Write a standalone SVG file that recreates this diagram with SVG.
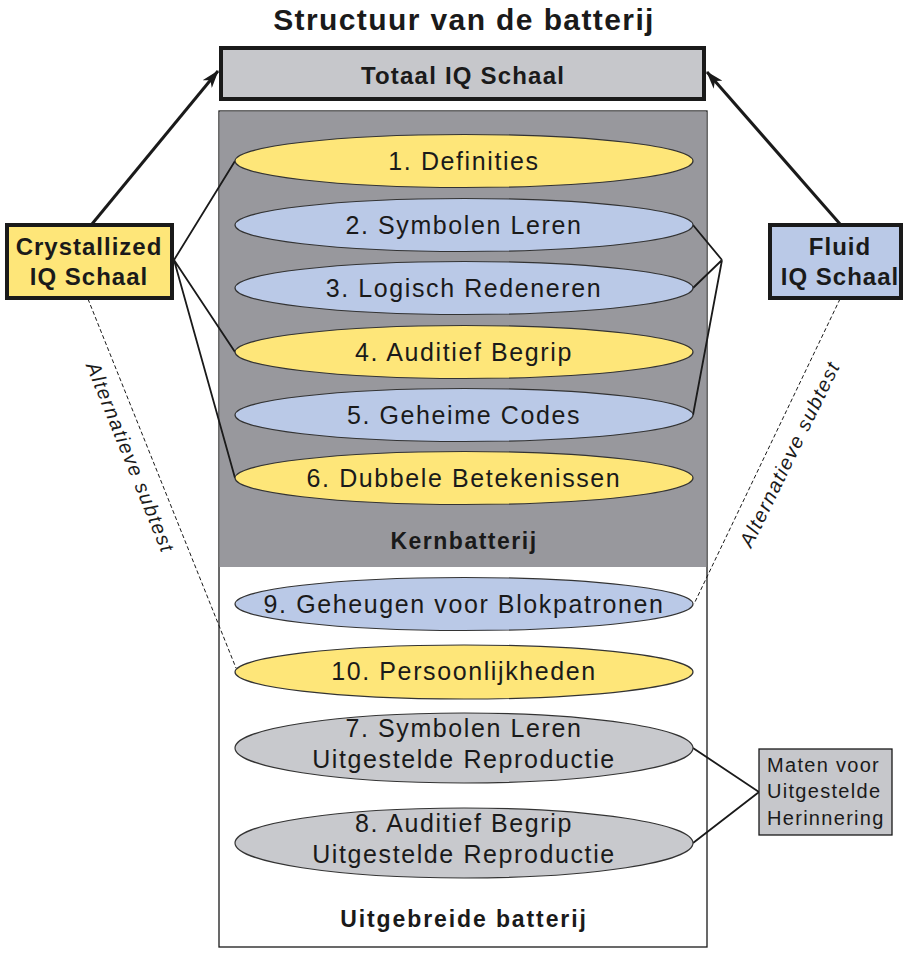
<svg xmlns="http://www.w3.org/2000/svg" width="903" height="953" viewBox="0 0 903 953">
<style>
text{font-family:"Liberation Sans",Arial,sans-serif;fill:#1a1a1a}
.t{font-size:25px;letter-spacing:1.6px;text-anchor:middle}
.b{font-weight:bold}
.y{fill:#fee679;stroke:#333;stroke-width:1.2}
.u{fill:#bac9e7;stroke:#333;stroke-width:1.2}
.g{fill:#c8c9cd;stroke:#333;stroke-width:1.2}
.ln{stroke:#1a1a1a;stroke-width:1.8;fill:none}
.ds{stroke:#1a1a1a;stroke-width:1;stroke-dasharray:4 2.5;fill:none}
.ar{stroke:#1a1a1a;stroke-width:3;fill:none;marker-end:url(#ah)}
.alt{font-size:20px;font-style:italic;letter-spacing:1.4px;text-anchor:middle}
</style>
<defs>
<marker id="ah" viewBox="0 0 18 12" refX="17" refY="6" markerWidth="18" markerHeight="12" markerUnits="userSpaceOnUse" orient="auto">
<path d="M0,0 L18,6 L0,12 L5,6 Z" fill="#1a1a1a"/>
</marker>
</defs>
<rect width="903" height="953" fill="#fff"/>
<text x="464" y="30" class="b" font-size="30" letter-spacing="1.4" text-anchor="middle">Structuur van de batterij</text>

<g id="container">
<rect x="219" y="111" width="488" height="836" fill="#fff" stroke="#1a1a1a" stroke-width="1.3"/>
<rect x="219.6" y="111.6" width="486.8" height="455.4" fill="#98989d"/>
<text x="464" y="549" class="b" font-size="23" letter-spacing="1.5" text-anchor="middle">Kernbatterij</text>
<text x="464" y="927" class="b" font-size="23" letter-spacing="1.9" text-anchor="middle">Uitgebreide batterij</text>
</g>

<g id="connectors">
<line class="ar" x1="92" y1="224" x2="218" y2="71"/>
<line class="ar" x1="840" y1="224" x2="707" y2="72"/>
<path class="ln" d="M174,260 L235,161 M174,260 L235,352 M174,260 L235,478"/>
<path class="ln" d="M722,260 L693,225 M722,260 L693,288 M722,260 L693,415"/>
<path class="ln" d="M693,748 L759,792 L693,843"/>
<line class="ds" x1="88" y1="299" x2="236" y2="668"/>
<line class="ds" x1="840" y1="299" x2="694" y2="604"/>
<text class="alt" transform="translate(124,460) rotate(68)">Alternatieve subtest</text>
<text class="alt" transform="translate(796,457) rotate(-64)">Alternatieve subtest</text>
</g>

<g id="totaal">
<rect x="221" y="48" width="483" height="51" fill="#c6c7cb" stroke="#1a1a1a" stroke-width="4"/>
<text x="463" y="84" class="b" font-size="24" letter-spacing="1.2" text-anchor="middle">Totaal IQ Schaal</text>
</g>

<g id="crystallized">
<rect x="7" y="225" width="165" height="73" fill="#fee679" stroke="#1a1a1a" stroke-width="4"/>
<text x="89" y="255" class="b" font-size="24" letter-spacing="1" text-anchor="middle">Crystallized</text>
<text x="89" y="285" class="b" font-size="24" letter-spacing="1" text-anchor="middle">IQ Schaal</text>
</g>

<g id="fluid">
<rect x="770" y="225" width="131" height="73" fill="#bac9e7" stroke="#1a1a1a" stroke-width="4"/>
<text x="840" y="255" class="b" font-size="24" letter-spacing="1" text-anchor="middle">Fluid</text>
<text x="840" y="285" class="b" font-size="24" letter-spacing="1" text-anchor="middle">IQ Schaal</text>
</g>

<g id="e1"><ellipse class="y" cx="464" cy="161" rx="229" ry="26.5"/><text class="t" x="464" y="170">1. Definities</text></g>
<g id="e2"><ellipse class="u" cx="464" cy="225" rx="229" ry="26.5"/><text class="t" x="464" y="234">2. Symbolen Leren</text></g>
<g id="e3"><ellipse class="u" cx="464" cy="288" rx="229" ry="26.5"/><text class="t" x="464" y="297">3. Logisch Redeneren</text></g>
<g id="e4"><ellipse class="y" cx="464" cy="352" rx="229" ry="26.5"/><text class="t" x="464" y="361">4. Auditief Begrip</text></g>
<g id="e5"><ellipse class="u" cx="464" cy="415" rx="229" ry="26.5"/><text class="t" x="464" y="424">5. Geheime Codes</text></g>
<g id="e6"><ellipse class="y" cx="464" cy="478" rx="229" ry="26.5"/><text class="t" x="464" y="487">6. Dubbele Betekenissen</text></g>
<g id="e9"><ellipse class="u" cx="464" cy="604" rx="229" ry="26.5"/><text class="t" x="464" y="613">9. Geheugen voor Blokpatronen</text></g>
<g id="e10"><ellipse class="y" cx="464" cy="672" rx="229" ry="27"/><text class="t" x="464" y="680">10. Persoonlijkheden</text></g>
<g id="e7"><ellipse class="g" cx="464" cy="748" rx="229" ry="35"/><text class="t" x="464" y="737">7. Symbolen Leren</text><text class="t" x="464" y="768">Uitgestelde Reproductie</text></g>
<g id="e8"><ellipse class="g" cx="464" cy="843" rx="229" ry="35"/><text class="t" x="464" y="832">8. Auditief Begrip</text><text class="t" x="464" y="863">Uitgestelde Reproductie</text></g>

<g id="maten">
<rect x="759" y="749" width="133" height="86" fill="#c6c7cb" stroke="#1a1a1a" stroke-width="1.3"/>
<text x="767" y="772" font-size="20" letter-spacing="1.3">Maten voor</text>
<text x="767" y="798" font-size="20" letter-spacing="1.3">Uitgestelde</text>
<text x="767" y="825" font-size="20" letter-spacing="1.3">Herinnering</text>
</g>
</svg>
